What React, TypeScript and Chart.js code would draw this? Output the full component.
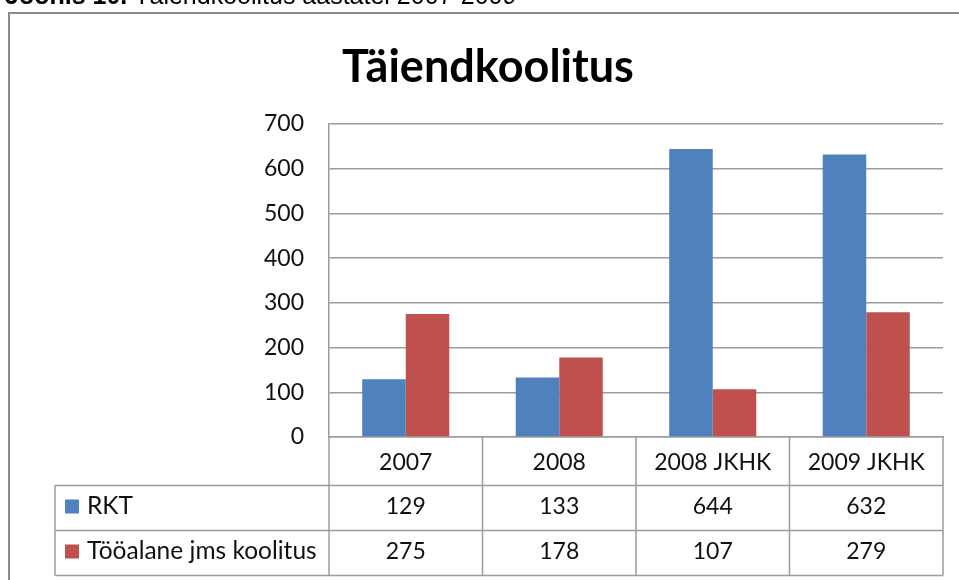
import React, { useEffect, useRef } from 'react';
import { Chart, registerables } from 'chart.js';

Chart.register(...registerables);

const categories = ['2007', '2008', '2008 JKHK', '2009 JKHK'];
const seriesNames = ['RKT', 'Tööalane jms koolitus'];
const rktValues = [129, 133, 644, 632];
const tooalaneValues = [275, 178, 107, 279];
const yMin = 0;
const yMax = 700;
const yStep = 100;
const chartTitle = 'Täiendkoolitus';
const captionBold = 'Joonis 10.';
const captionRest = ' Täiendkoolitus aastatel 2007-2009';

const seriesColors = ['#4F81BD', '#C0504D'];
const FONT = 'Lato, "Open Sans", sans-serif';
const LINE = '#9c9c9c';
const TEXT = '#111';

const tablePlugin = {
  id: 'dataTable',
  afterDraw(chart: any) {
    const { ctx, chartArea, scales } = chart;
    const xs = scales.x;
    const n = categories.length;
    const centers = categories.map((_, i) => xs.getPixelForValue(i));
    const edges: number[] = [chartArea.left];
    for (let i = 1; i < n; i++) edges.push((centers[i - 1] + centers[i]) / 2);
    edges.push(chartArea.right);

    const headerTop = chartArea.bottom;
    const headerBottom = headerTop + 48.5;
    const rowH = 45;
    const tableLeft = 55;
    const rows = [headerBottom, headerBottom + rowH, headerBottom + 2 * rowH];
    const tableBottom = rows[2];

    ctx.save();
    ctx.strokeStyle = LINE;
    ctx.lineWidth = 1.5;
    ctx.beginPath();
    edges.forEach((x) => {
      ctx.moveTo(x, headerTop);
      ctx.lineTo(x, tableBottom);
    });
    ctx.moveTo(tableLeft, headerBottom);
    ctx.lineTo(tableLeft, tableBottom);
    rows.forEach((y) => {
      ctx.moveTo(tableLeft, y);
      ctx.lineTo(chartArea.right, y);
    });
    ctx.stroke();

    const series = [rktValues, tooalaneValues];
    ctx.textBaseline = 'middle';
    series.forEach((vals, r) => {
      const cy = (rows[r] + rows[r + 1]) / 2 - 1.5;
      ctx.fillStyle = seriesColors[r];
      ctx.fillRect(65, cy - 7, 14, 14);
      ctx.fillStyle = TEXT;
      ctx.textAlign = 'left';
      ctx.font = `24.5px ${FONT}`;
      ctx.fillText(seriesNames[r], 87, cy);
      ctx.textAlign = 'center';
      ctx.font = `23px ${FONT}`;
      vals.forEach((v, i) => ctx.fillText(String(v), centers[i], cy));
    });

    // outer frame
    ctx.strokeStyle = '#8c8c8c';
    ctx.lineWidth = 2;
    ctx.strokeRect(9, 13, 1200, 1200);

    // caption (cut off at top)
    ctx.fillStyle = '#000';
    ctx.textAlign = 'left';
    ctx.textBaseline = 'alphabetic';
    ctx.font = 'bold 25px "Liberation Sans", Arial, sans-serif';
    ctx.fillText(captionBold, 5, 4);
    const w = ctx.measureText(captionBold).width;
    ctx.font = '25px "Liberation Sans", Arial, sans-serif';
    ctx.fillText(captionRest, 5 + w, 4);
    ctx.restore();
  },
};

export default function App() {
  const ref = useRef<HTMLCanvasElement | null>(null);
  useEffect(() => {
    if (!ref.current) return;
    const chart = new Chart(ref.current, {
      type: 'bar',
      data: {
        labels: categories,
        datasets: [
          {
            label: seriesNames[0],
            data: rktValues,
            backgroundColor: seriesColors[0],
            categoryPercentage: 0.567,
            barPercentage: 1,
          },
          {
            label: seriesNames[1],
            data: tooalaneValues,
            backgroundColor: seriesColors[1],
            categoryPercentage: 0.567,
            barPercentage: 1,
          },
        ],
      },
      options: {
        responsive: false,
        animation: false,
        layout: { padding: { left: 33, right: 16, top: 0, bottom: 0 } },
        plugins: {
          legend: { display: false },
          tooltip: { enabled: false },
          title: {
            display: true,
            text: chartTitle,
            color: '#000',
            font: { family: FONT, size: 45, weight: 'bold' },
            padding: { top: 40, bottom: 30 },
          },
        },
        scales: {
          x: {
            grid: { display: true, drawOnChartArea: false, drawTicks: false },
            border: { display: true, color: LINE, width: 1.5 },
            ticks: { color: TEXT, font: { family: FONT, size: 23 }, padding: 12 },
            afterFit: (s: any) => {
              s.height = 143;
            },
          },
          y: {
            min: yMin,
            max: yMax,
            grid: { color: LINE, lineWidth: 1.5, drawTicks: false },
            border: { display: true, color: LINE, width: 1.5 },
            ticks: { stepSize: yStep, color: TEXT, font: { family: FONT, size: 23 }, padding: 25 },
            afterFit: (s: any) => {
              s.width = 296;
            },
          },
        },
      },
      plugins: [tablePlugin],
    });
    return () => chart.destroy();
  }, []);
  return (
    <canvas
      ref={ref}
      width={959}
      height={580}
      style={{ position: 'fixed', left: 0, top: 0, width: 959, height: 580, background: '#fff' }}
    />
  );
}
